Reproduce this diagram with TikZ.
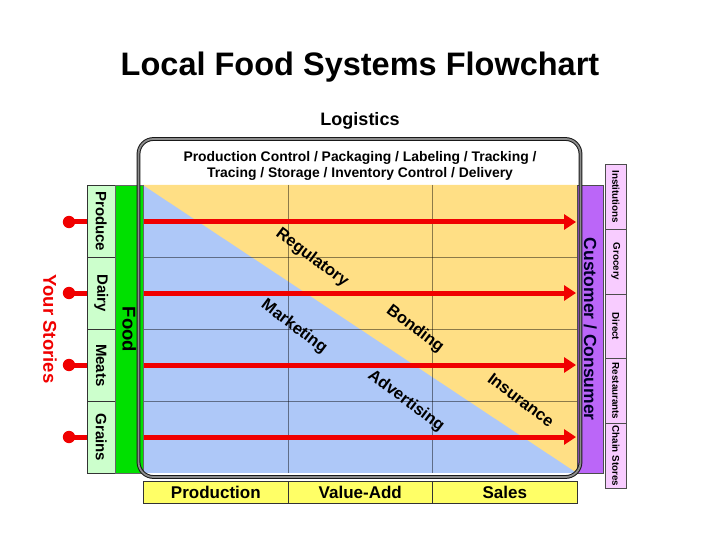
\documentclass[tikz,border=0pt]{standalone}
\usepackage{fontspec}
\setmainfont{Liberation Sans}
\usetikzlibrary{arrows.meta}
\definecolor{gyellow}{HTML}{FFDF85}
\definecolor{gblue}{HTML}{AEC8F8}
\definecolor{lgreen}{HTML}{CCFFCC}
\definecolor{fgreen}{HTML}{00E000}
\definecolor{purp}{HTML}{BB66F8}
\definecolor{lpink}{HTML}{F8CCFF}
\definecolor{byellow}{HTML}{FFFF66}
\definecolor{stred}{HTML}{F00000}
\tikzset{
  cellbox/.style={draw=black!80, line width=0.6pt, inner sep=0pt, anchor=north west},
  vlabel/.style={rotate=-90, font=\bfseries},
  diag/.style={rotate=-37, font=\bfseries\fontsize{16.5}{17}\selectfont},
  redline/.style={draw=stred, line width=5pt, -{Triangle[length=12pt,width=15pt]}},
  gridline/.style={draw=black, draw opacity=0.45, line width=0.7pt},
  itemlabel/.style={vlabel, font=\bfseries\fontsize{15}{15}\selectfont},
  stagelabel/.style={font=\bfseries\fontsize{17}{17}\selectfont},
}
\begin{document}
\begin{tikzpicture}[x=1pt,y=-1pt]
\useasboundingbox (0,0) rectangle (720,540);
% title
\node[font=\bfseries\fontsize{32.5}{33}\selectfont] (title) at (360,67.5) {Local Food Systems Flowchart};
\node[font=\bfseries\fontsize{18}{18}\selectfont] (logi) at (360,121) {Logistics};
% grid fills
\fill[gblue] (143,185) rectangle (577,473);
\fill[gyellow] (143,185) -- (577,185) -- (577,473) -- cycle;
\coordinate (gTL) at (143,185);
\coordinate (gBR) at (577,473);
% grid lines
\foreach \y in {257,329,401} \draw[gridline] (143,\y) -- (577,\y);
\foreach \x in {288,432} \draw[gridline] (\x,185) -- (\x,473);
% red arrows
\foreach \n/\y in {1/222,2/293,3/365,4/437}{
  \coordinate (s\n) at (69,\y);
  \coordinate (e\n) at (576,\y);
  \draw[redline] (s\n) -- (e\n);
  \fill[stred] (s\n) circle (6.2);
}
% food items
\node[cellbox, fill=lgreen, minimum width=28pt, minimum height=72pt] (produce) at (87,185) {};
\node[cellbox, fill=lgreen, minimum width=28pt, minimum height=72pt] (dairy) at (87,257) {};
\node[cellbox, fill=lgreen, minimum width=28pt, minimum height=72pt] (meats) at (87,329) {};
\node[cellbox, fill=lgreen, minimum width=28pt, minimum height=72pt] (grains) at (87,401) {};
\node[itemlabel] at (produce.center) {Produce};
\node[itemlabel] at (dairy.center) {Dairy};
\node[itemlabel] at (meats.center) {Meats};
\node[itemlabel] at (grains.center) {Grains};
\node[cellbox, draw=black!60, fill=fgreen, minimum width=28pt, minimum height=288pt] (food) at (115,185) {};
\node[vlabel, font=\bfseries\fontsize{18.5}{19}\selectfont] at (food.center) {Food};
\node[vlabel, text=stred, font=\bfseries\fontsize{18.5}{19}\selectfont] (stories) at (50,329) {Your Stories};
% customer bar
\node[cellbox, draw=black!70, fill=purp, minimum width=26pt, minimum height=288pt] (cust) at (577,185) {};
\node[vlabel, text=black!85!blue, font=\bfseries\fontsize{17.5}{18}\selectfont] at (cust.center) {Customer / Consumer};
% outlets
\foreach \n/\t [count=\i from 0] in {inst/Institutions,groc/Grocery,dir/Direct,rest/Restaurants,chain/Chain Stores}{
  \node[cellbox, draw=black!70, fill=lpink, minimum width=21pt, minimum height=64.8pt] (\n) at (605,164+64.8*\i) {};
  \node[vlabel, font=\bfseries\fontsize{9.8}{10}\selectfont] at (\n.center) {\t};
}
% bottom stages
\node[cellbox, fill=byellow, minimum width=145pt, minimum height=22pt] (prod) at (143,481) {};
\node[cellbox, fill=byellow, minimum width=144pt, minimum height=22pt] (val) at (288,481) {};
\node[cellbox, fill=byellow, minimum width=145pt, minimum height=22pt] (sales) at (432,481) {};
\node[stagelabel] at (prod.center) {Production};
\node[stagelabel] at (val.center) {Value-Add};
\node[stagelabel] at (sales.center) {Sales};
% logistics frame
\draw[draw=black!90, line width=1pt, double=black!45, double distance=1.8pt, rounded corners=15pt] (138.5,139) rectangle (580.5,477);
\node[font=\bfseries\fontsize{13.9}{16}\selectfont, align=center] (ltext) at (360,166) {Production Control / Packaging / Labeling / Tracking /\\Tracing / Storage / Inventory Control / Delivery};
% diagonal labels
\node[diag] (reg) at (312,258) {Regulatory};
\node[diag] (mkt) at (294,327) {Marketing};
\node[diag] (bond) at (415,329) {Bonding};
\node[diag] (adv) at (406,401) {Advertising};
\node[diag] (ins) at (521,400) {Insurance};
\end{tikzpicture}
\end{document}
